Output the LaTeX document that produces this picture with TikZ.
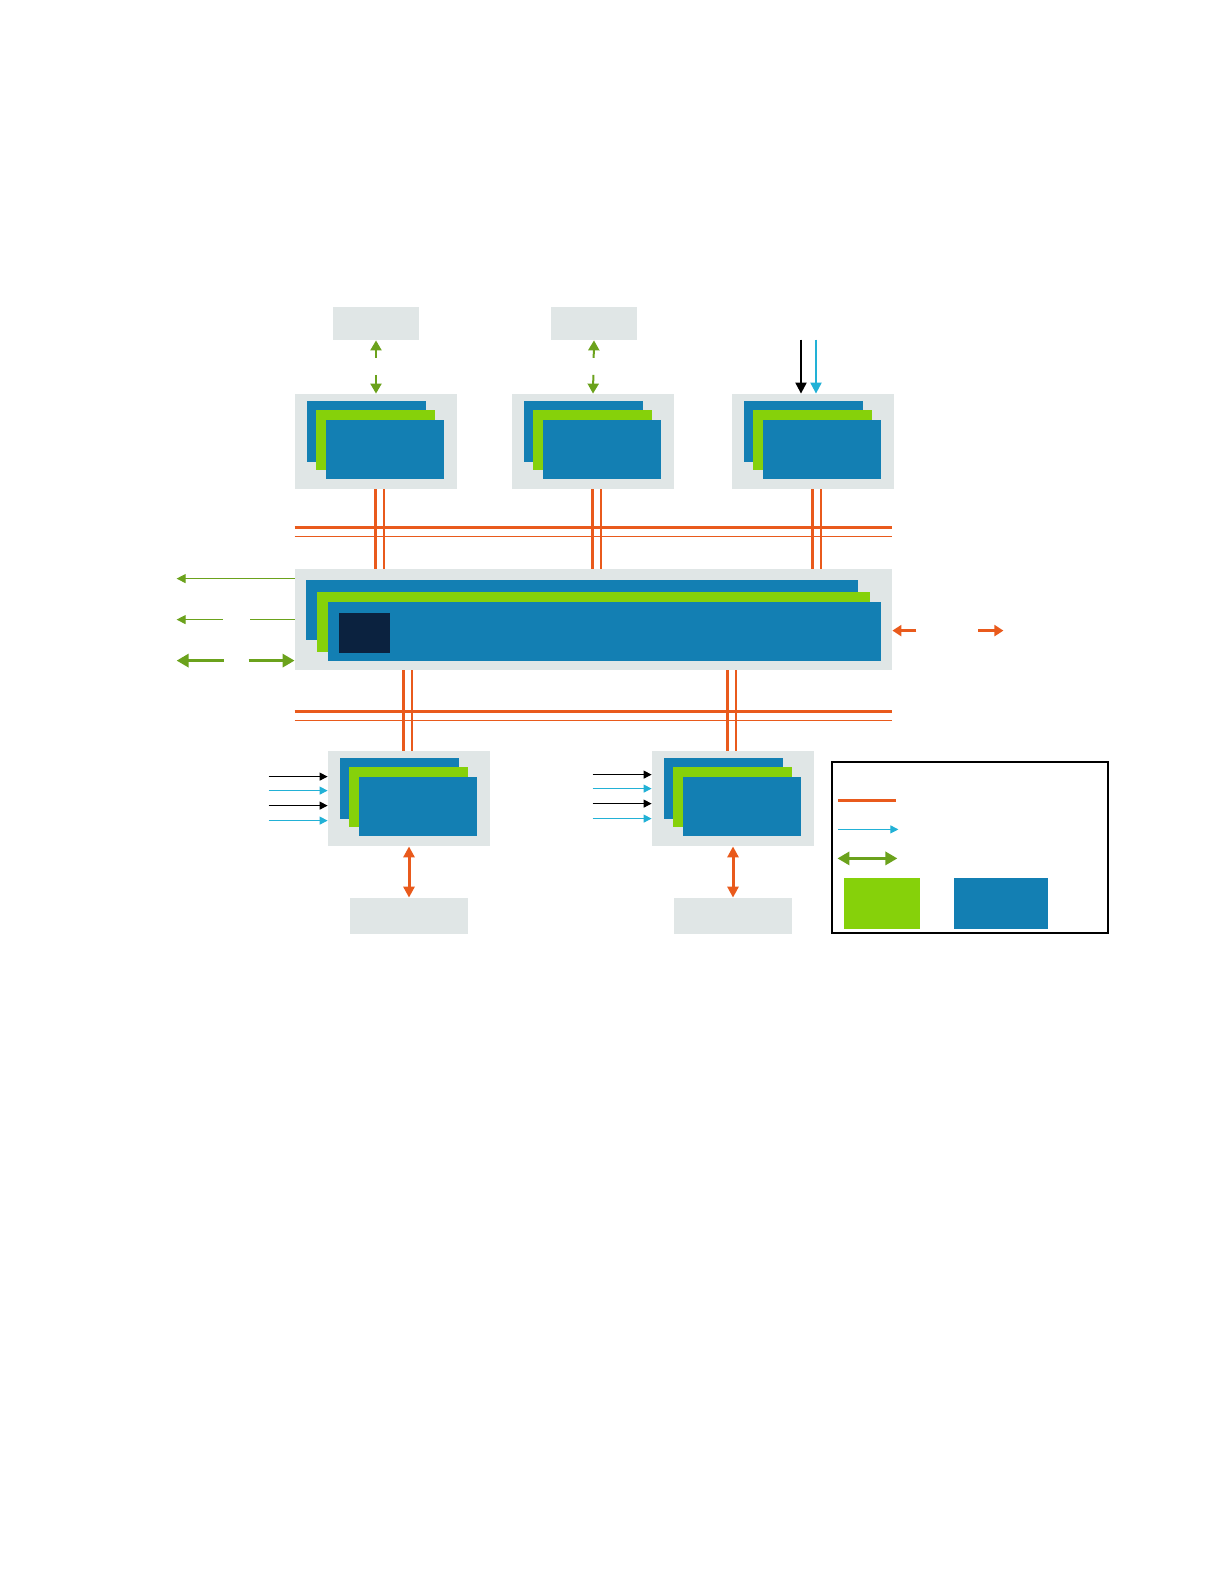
\documentclass[tikz,border=0pt]{standalone}
\usetikzlibrary{arrows.meta, calc, fit}

\definecolor{cardblue}{HTML}{137FB3}
\definecolor{cardgreen}{HTML}{86D10A}
\definecolor{panelgray}{HTML}{E0E6E6}
\definecolor{busorange}{HTML}{E95A1C}
\definecolor{signalcyan}{HTML}{22B1D6}
\definecolor{linkgreen}{HTML}{6BA21C}
\definecolor{corenavy}{HTML}{0B223F}

\begin{document}
\begin{tikzpicture}[
    x=0.5pt, y=-0.5pt, % one unit = one pixel of the page, y runs down
    >=Latex, % Set default arrow tip style
    panel/.style={fill=panelgray, inner sep=0pt}, % gray carrier
    card/.style={fill=cardblue, inner sep=0pt},
    cardg/.style={fill=cardgreen, inner sep=0pt},
    busthick/.style={draw=busorange, line width=1.5pt},
    busthin/.style={draw=busorange, line width=0.75pt},
    glink/.style={linkgreen, line width=1pt, -{Triangle[length=5pt, width=5.5pt]}},
    gthin/.style={linkgreen, line width=0.5pt, -{Triangle[length=4.5pt, width=4.5pt]}},
    gthick/.style={linkgreen, line width=1.6pt, -{Triangle[length=6pt, width=6.5pt]}},
    oarrow/.style={busorange, line width=1.5pt, -{Triangle[length=4.5pt, width=5.5pt]}},
    odouble/.style={busorange, line width=1.5pt, {Triangle[length=5.5pt, width=5.5pt]}-{Triangle[length=5.5pt, width=5.5pt]}},
    kin/.style={black, line width=0.5pt, -{Triangle[length=4pt, width=4pt]}},
    cin/.style={signalcyan, line width=0.5pt, -{Triangle[length=4pt, width=4pt]}},
    kbig/.style={black, line width=1pt, -{Triangle[length=5.5pt, width=5.5pt]}},
    cbig/.style={signalcyan, line width=1pt, -{Triangle[length=5.5pt, width=5.5pt]}}
]
    \useasboundingbox (0,0) rectangle (1224,1584);

    % Card stacks on their gray panels
    \foreach \n/\px/\py in {t1/295/394, t2/512/394, t3/732/394, b1/328/751, b2/652/751} {
        \node[panel, fit={(\px,\py) (\px+162,\py+95)}] (panel-\n) {};
        \node[card, fit={(\px+12,\py+7) (\px+131,\py+68)}] {};
        \node[cardg, fit={(\px+21,\py+16) (\px+140,\py+76)}] {};
        \node[card, fit={(\px+31,\py+26) (\px+149,\py+85)}] (card-\n) {};
    }

    % Central chip
    \node[panel, fit={(295,569) (892,670)}] (soc) {};
    \node[card, fit={(306,580) (858,640)}] {};
    \node[cardg, fit={(317,592) (870,652)}] {};
    \node[card, fit={(328,602) (881,661)}] (soc-front) {};
    \node[fill=corenavy, inner sep=0pt, fit={(339,613) (390,653)}] (core) {};

    % Memory and I/O blocks
    \node[panel, fit={(333,307) (419,340)}] (mem1) {};
    \node[panel, fit={(551,307) (637,340)}] (mem2) {};
    \node[panel, fit={(350,898) (468,934)}] (io1) {};
    \node[panel, fit={(674,898) (792,934)}] (io2) {};

    % Buses above and below the chip
    \draw[busthick] ($(soc.north west)+(0,-41)$) -- ($(soc.north east)+(0,-41)$);
    \draw[busthin] ($(soc.north west)+(0,-32)$) -- ($(soc.north east)+(0,-32)$);
    \draw[busthick] ($(soc.south west)+(0,41)$) -- ($(soc.south east)+(0,41)$);
    \draw[busthin] ($(soc.south west)+(0,50)$) -- ($(soc.south east)+(0,50)$);

    % Bus drops from the upper panels
    \foreach \n in {t1, t2, t3} {
        \coordinate (dropa-\n) at ($(panel-\n.south)+(-1,0)$);
        \coordinate (dropb-\n) at ($(panel-\n.south)+(8,0)$);
        \draw[busthick] (dropa-\n) -- (dropa-\n |- soc.north);
        \draw[busthin] (dropb-\n) -- (dropb-\n |- soc.north);
    }
    % Bus drops to the lower panels
    \foreach \n in {b1, b2} {
        \coordinate (risea-\n) at ($(panel-\n.north)+(-6,0)$);
        \coordinate (riseb-\n) at ($(panel-\n.north)+(3,0)$);
        \draw[busthick] (risea-\n |- soc.south) -- (risea-\n);
        \draw[busthin] (riseb-\n |- soc.south) -- (riseb-\n);
    }

    % Memory links
    \draw[glink] ($(mem1.south)!0.33!(panel-t1.north)$) -- (mem1.south);
    \draw[glink] ($(mem1.south)!0.65!(panel-t1.north)$) -- (panel-t1.north);
    \draw[glink] ($(mem2.south)!0.33!(panel-t2.north)$) -- (mem2.south);
    \draw[glink] ($(mem2.south)!0.65!(panel-t2.north)$) -- (panel-t2.north);

    % Inputs into the third panel
    \coordinate (kin-t3) at ($(panel-t3.north)+(-12,0)$);
    \coordinate (cin-t3) at ($(panel-t3.north)+(3,0)$);
    \draw[kbig] ($(kin-t3)+(0,-54)$) -- (kin-t3);
    \draw[cbig] ($(cin-t3)+(0,-54)$) -- (cin-t3);

    % Links on the left of the chip
    \coordinate (left-a) at ($(soc.north west)+(0,10)$);
    \coordinate (left-b) at ($(soc.north west)+(0,51)$);
    \coordinate (left-c) at ($(soc.north west)+(0,92)$);
    \draw[gthin] (left-a) -- ++(-118,0);
    \draw[linkgreen, line width=0.5pt] (left-b) -- ++(-45,0);
    \draw[gthin] ($(left-b)+(-72,0)$) -- ++(-46,0);
    \draw[gthick] ($(left-c)+(-71,0)$) -- ++(-47,0);
    \draw[gthick] ($(left-c)+(-46,0)$) -- (left-c);

    % Links on the right of the chip
    \coordinate (right-a) at ($(soc.north east)+(0,62)$);
    \draw[oarrow] ($(right-a)+(24,0)$) -- (right-a);
    \draw[oarrow] ($(right-a)+(86,0)$) -- ++(25,0);

    % Lower panels to their I/O blocks
    \draw[odouble] (panel-b1.south) -- (io1.north);
    \draw[odouble] (panel-b2.south) -- (io2.north);

    % Inputs into the lower panels
    \foreach \n/\dy in {b1/0, b2/-2} {
        \coordinate (in1-\n) at ($(panel-\n.north west)+(0,26+\dy)$);
        \coordinate (in2-\n) at ($(panel-\n.north west)+(0,40+\dy)$);
        \coordinate (in3-\n) at ($(panel-\n.north west)+(0,55+\dy)$);
        \coordinate (in4-\n) at ($(panel-\n.north west)+(0,70+\dy)$);
        \draw[kin] ($(in1-\n)+(-59,0)$) -- (in1-\n);
        \draw[cin] ($(in2-\n)+(-59,0)$) -- (in2-\n);
        \draw[kin] ($(in3-\n)+(-59,0)$) -- (in3-\n);
        \draw[cin] ($(in4-\n)+(-59,0)$) -- (in4-\n);
    }

    % Legend
    \node[draw=black, line width=0.6pt, inner sep=0pt, fit={(832,762) (1108,933)}] (legend) {};
    \draw[busthick] ($(legend.north west)+(7,39)$) -- ++(58,0);
    \draw[cin] ($(legend.north west)+(7,68)$) -- ++(60,0);
    \draw[gthick, {Triangle[length=6pt, width=6.5pt]}-{Triangle[length=6pt, width=6.5pt]}] ($(legend.north west)+(6,97)$) -- ++(60,0);
    \node[cardg, fit={(844,878) (920,929)}] (key-green) {};
    \node[card, fit={(954,878) (1048,929)}] (key-blue) {};

\end{tikzpicture}
\end{document}
